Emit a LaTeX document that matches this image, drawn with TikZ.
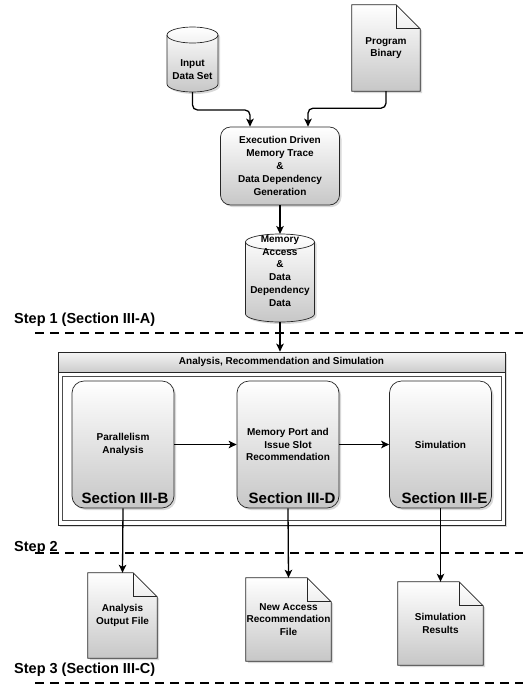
\documentclass[tikz,border=0pt]{standalone}
\usepackage{fontspec}
\setmainfont{Liberation Sans}
\usetikzlibrary{arrows.meta,shadows}
\pgfdeclarelayer{background}
\pgfsetlayers{background,main}
\tikzset{
  lbl/.style={font=\bfseries\fontsize{10}{12.8}\selectfont,align=center,inner sep=0pt},
  outline/.style={draw=black!85,line width=0.7pt},
  boxfill/.style={outline,top color=white,bottom color=black!22,
    drop shadow={shadow xshift=2pt,shadow yshift=-2pt,opacity=0.3}},
  procbox/.style={lbl,boxfill,rounded corners=10pt,minimum width=119pt,minimum height=78pt},
  stagebox/.style={lbl,boxfill,rounded corners=12pt,minimum width=102pt,minimum height=127pt},
  docnode/.style={lbl,minimum width=#1},
  hdrbox/.style={lbl,outline,top color=black!4,bottom color=black!20,minimum width=447pt,minimum height=20pt},
  conn/.style={line width=1.3pt,rounded corners=5pt,-{Stealth[length=8pt,width=7.5pt,inset=2pt]}},
  sepline/.style={line width=2.2pt,dash pattern=on 9pt off 6pt},
  steplbl/.style={font=\bfseries\fontsize{14.5}{17}\selectfont,anchor=base west,inner sep=0pt},
  seclbl/.style={font=\bfseries\fontsize{15}{18}\selectfont,anchor=base,inner sep=0pt}
}
\newcommand{\docshape}[1]{%
  \path[boxfill] (#1.north west) -- ([xshift=-24pt]#1.north east) -- ([yshift=-24pt]#1.north east)
    -- (#1.south east) -- (#1.south west) -- cycle;
  \draw[outline] ([xshift=-24pt]#1.north east) |- ([yshift=-24pt]#1.north east);
}
\newcommand{\dbshape}[5]{%
  \path[boxfill] (#2-#3,#4+8) -- (#2-#3,#5-8)
    arc[start angle=180,end angle=360,x radius=#3pt,y radius=8pt] -- (#2+#3,#4+8)
    arc[start angle=0,end angle=180,x radius=#3pt,y radius=8pt] -- cycle;
  \draw[outline] (#2-#3,#4+8) arc[start angle=180,end angle=360,x radius=#3pt,y radius=8pt];
  \coordinate (#1-top) at (#2,#4);
  \coordinate (#1-bot) at (#2,#5);
}
\begin{document}
\begin{tikzpicture}[x=1pt,y=-1pt]
\useasboundingbox (0,0) rectangle (523,686);

\draw[sepline] (35,333) -- (523,333);
\draw[sepline] (35,553) -- (523,553);
\draw[sepline] (35,683) -- (523,683);
\node[steplbl] (step1) at (14,323.5) {Step 1 (Section III-A)};
\node[steplbl] (step2) at (14,551) {Step 2};
\node[steplbl] (step3) at (14,673) {Step 3 (Section III-C)};

\node[lbl] (input) at (192.5,70) {Input\\Data Set};
\node[docnode=68pt,minimum height=86pt] (prog) at (386,48) {Program\\Binary};
\node[procbox] (exec) at (280,166) {Execution Driven\\Memory Trace\\\&\\Data Dependency\\Generation};
\node[lbl] (mem) at (280,271) {Memory\\Access\\\&\\Data\\Dependency\\Data};

\path[outline,fill=white,drop shadow={shadow xshift=2pt,shadow yshift=-2pt,opacity=0.3}] (58,352) rectangle (505,525);
\draw[black!70,line width=0.6pt] (62,376) rectangle (501,520);
\node[hdrbox] (hdr) at (281.5,362) {Analysis, Recommendation and Simulation};

\node[stagebox] (parb) at (123,444.5) {Parallelism\\Analysis};
\node[stagebox] (mport) at (288,444.5) {Memory Port and\\Issue Slot\\Recommendation};
\node[stagebox] (simb) at (440.5,444.5) {Simulation};
\node[seclbl] (secB) at ([xshift=2pt,yshift=5pt]parb.south) {Section III-B};
\node[seclbl] (secD) at ([xshift=4pt,yshift=5pt]mport.south) {Section III-D};
\node[seclbl] (secE) at ([xshift=4pt,yshift=5pt]simb.south) {Section III-E};

\node[docnode=69pt,minimum height=85pt] (afile) at (122.5,615.5) {Analysis\\Output File};
\node[docnode=85pt,minimum height=83pt] (rfile) at (288.5,619.5) {New Access\\Recommendation\\File};
\node[docnode=85pt,minimum height=83pt] (sfile) at (440.5,623.5) {Simulation\\Results};

\begin{pgfonlayer}{background}
\dbshape{input}{192.5}{25.5}{27}{92}
\dbshape{mem}{280}{34.5}{234}{322}
\docshape{prog}
\docshape{afile}
\docshape{rfile}
\docshape{sfile}
\end{pgfonlayer}

\draw[conn] (input-bot) -- ++(0,18) -| ([xshift=-30pt]exec.north);
\draw[conn] (prog.south) -- ++(0,17) -| ([xshift=28pt]exec.north);
\draw[conn] (exec.south) -- (mem-top);
\draw[conn] (mem-bot) -- (mem-bot |- hdr.north);
\draw[conn] (parb.east) -- (mport.west);
\draw[conn] (mport.east) -- (simb.west);
\draw[conn] (parb.south) -- (afile.north);
\draw[conn] (mport.south) -- (rfile.north);
\draw[conn] (simb.south) -- (sfile.north);
\end{tikzpicture}
\end{document}
